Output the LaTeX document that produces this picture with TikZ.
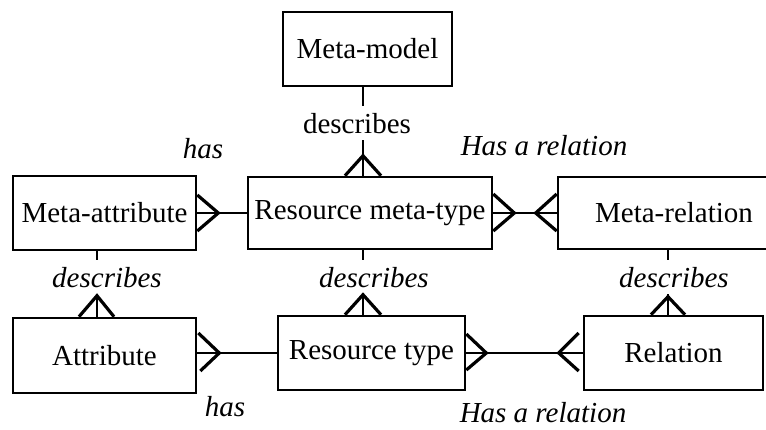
\documentclass[tikz,border=0pt]{standalone}
\usepackage{fontspec}
\setmainfont{Liberation Serif}
\begin{document}
\begin{tikzpicture}[x=1pt,y=-1pt,
  box/.style={draw, line width=2.6pt, inner sep=0pt, font=\fontsize{29}{34}\selectfont},
  conn/.style={line width=2.4pt},
  crow/.style={line width=3.2pt, line join=miter},
  lbl/.style={font=\fontsize{29}{34}\selectfont\itshape, inner sep=0pt},
  desc/.style={font=\fontsize{29}{34}\selectfont, text height=20pt, text depth=0pt, inner xsep=0pt, inner ysep=7pt},
  idesc/.style={desc, font=\fontsize{29}{34}\selectfont\itshape}]
\clip (0,0) rectangle (766,429);
\fill[white] (0,0) rectangle (766,429);
% boxes
\node[box, minimum width=169pt, minimum height=74pt] (mm) at (367.5,49) {Meta-model};
\node[box, minimum width=183pt, minimum height=74pt] (ma) at (104.5,213) {Meta-attribute};
\node[box, minimum width=244pt, minimum height=72pt] (rmt) at (370,213) {Resource meta-type};
\node[box, minimum width=232pt, minimum height=72pt] (mr) at (674,213) {Meta-relation};
\node[box, minimum width=183pt, minimum height=75pt] (at) at (104.5,355.5) {Attribute};
\node[box, minimum width=187pt, minimum height=74pt] (rt) at (371.5,353) {Resource type};
\node[box, minimum width=179pt, minimum height=74pt] (rel) at (673.5,353) {Relation};
% line positions
\coordinate (x1) at (363,0);
\coordinate (x2) at (97,0);
\coordinate (x3) at (668,0);
% describes labels
\node[desc] (d0) at (357,123) {describes};
\node[idesc] (d1) at (107,277) {describes};
\node[idesc] (d2) at (374,277) {describes};
\node[idesc] (d3) at (674,277) {describes};
% vertical connectors
\draw[conn] (mm.south -| x1) -- (d0.north -| x1);
\draw[conn] (d0.south -| x1) -- (rmt.north -| x1);
\draw[crow] (rmt.north -| x1) ++(-18,0) -- ++(18,-20) -- ++(18,20);
\draw[conn] (ma.south -| x2) -- (d1.north -| x2);
\draw[conn] (d1.south -| x2) -- (at.north -| x2);
\draw[crow] (at.north -| x2) ++(-18,0) -- ++(18,-21) -- ++(17,21);
\draw[conn] (rmt.south -| x1) -- (d2.north -| x1);
\draw[conn] (d2.south -| x1) -- (rt.north -| x1);
\draw[crow] (rt.north -| x1) ++(-18,0) -- ++(18,-20) -- ++(18,20);
\draw[conn] (mr.south -| x3) -- (d3.north -| x3);
\draw[conn] (d3.south -| x3) -- (rel.north -| x3);
\draw[crow] (rel.north -| x3) ++(-17,0) -- ++(17,-18) -- ++(17,18);
% horizontal connectors
\draw[conn] (ma.east) -- (rmt.west);
\draw[crow] (ma.east) ++(0,-18) -- ++(21,18) -- ++(-21,18);
\draw[conn] (rmt.east) -- (mr.west);
\draw[crow] (rmt.east) ++(0,-19) -- ++(21,19) -- ++(-21,18);
\draw[crow] (mr.west) ++(0,-19) -- ++(-21,19) -- ++(21,18);
\draw[conn] (at.east |- rt.west) -- (rt.west);
\draw[crow] (at.east |- rt.west) ++(1,-20) -- ++(21,20) -- ++(-19,18);
\draw[conn] (rt.east) -- (rel.west);
\draw[crow] (rt.east) ++(0,-19) -- ++(20,19) -- ++(-20,17);
\draw[crow] (rel.west) ++(-4,-20) -- ++(-20,20) -- ++(20,18);
% relationship labels
\node[lbl, anchor=base] (h1) at (203,158) {has};
\node[lbl, anchor=base] (h2) at (544,155) {Has a relation};
\node[lbl, anchor=base] (h3) at (225,416) {has};
\node[lbl, anchor=base] (h4) at (543,422) {Has a relation};
\end{tikzpicture}
\end{document}
